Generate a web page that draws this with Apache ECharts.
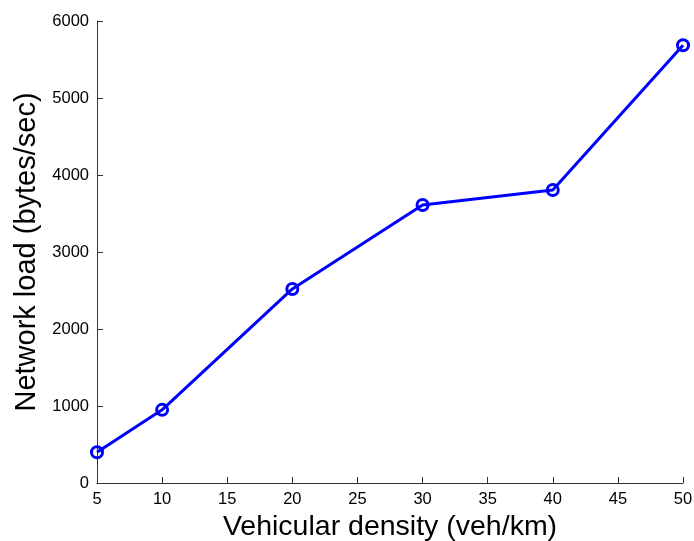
<!DOCTYPE html>
<html><head><meta charset="utf-8">
<script src="https://cdn.jsdelivr.net/npm/echarts@6/dist/echarts.min.js"></script>
<style>html,body{margin:0;padding:0;background:#fff}#c{width:694px;height:541px}</style>
</head><body><div id="c"></div>
<script>
const density = [5, 10, 20, 30, 40, 50];
const load = [400, 950, 2520, 3610, 3805, 5685];
const xTitle = 'Vehicular density (veh/km)';
const yTitle = 'Network load (bytes/sec)';

const chart = echarts.init(document.getElementById('c'));
const font = 'Liberation Sans, Arial, Helvetica, sans-serif';
chart.setOption({
  animation: false,
  grid: {left: 97, right: 11, top: 21, bottom: 58, containLabel: false, outerBoundsMode: 'none'},
  xAxis: {
    type: 'value', min: 5, max: 50, interval: 5,
    name: xTitle, nameLocation: 'middle', nameGap: 28,
    nameTextStyle: {fontFamily: font, fontSize: 28.5, color: '#000'},
    axisLine: {lineStyle: {color: '#333', width: 1}},
    axisTick: {inside: true, length: 6, lineStyle: {color: '#333'}},
    axisLabel: {fontFamily: font, fontSize: 16.5, color: '#000', margin: 8, formatter: v => String(v)},
    splitLine: {show: false}
  },
  yAxis: {
    type: 'value', min: 0, max: 6000, interval: 1000,
    name: yTitle, nameLocation: 'middle', nameGap: 54,
    nameTextStyle: {fontFamily: font, fontSize: 29, color: '#000'},
    axisLine: {show: true, lineStyle: {color: '#333', width: 1}},
    axisTick: {show: true, inside: true, length: 6, lineStyle: {color: '#333'}},
    axisLabel: {fontFamily: font, fontSize: 16.5, color: '#000', margin: 8, formatter: v => String(v)},
    splitLine: {show: false}
  },
  series: [{
    type: 'line',
    data: density.map((d, i) => [d, load[i]]),
    lineStyle: {color: '#0000ff', width: 3},
    itemStyle: {color: 'transparent', borderColor: '#0000ff', borderWidth: 3},
    symbol: 'circle', symbolSize: 11, showSymbol: true
  }]
});
</script></body></html>
